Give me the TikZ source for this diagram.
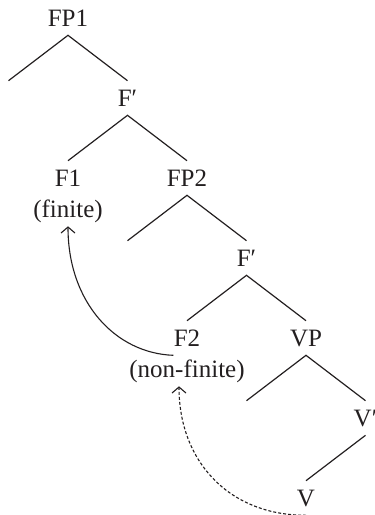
\documentclass[tikz,border=0pt]{standalone}
\usepackage{fontspec}
\setmainfont{Liberation Serif}
\usetikzlibrary{arrows.meta,positioning}
\definecolor{Ink}{HTML}{231F20}
\tikzset{
  cat/.style={inner xsep=0pt,inner ysep=4pt,text height=8.9pt,text depth=0pt,font=\fontsize{12.5pt}{14pt}\selectfont,text=Ink},
  branch/.style={draw=Ink,line width=0.6pt},
  move/.style={-{Straight Barb[length=3pt,width=7pt]},draw=Ink,line width=0.55pt},
  trace/.style={move,dash pattern=on 1.5pt off 1pt}
}

\begin{document}
\begin{tikzpicture}[x=0.5pt,y=-0.5pt,on grid,node distance=40pt and 29.75pt]
  \useasboundingbox (0,0) rectangle (375,515);
  \node[cat] (fp1) at (68,18) {FP1};
  \node[cat,below left=of fp1] (spec1) {};
  \node[cat,below right=of fp1] (fbar1) {F′};
  \node[cat,below left=of fbar1] (f1) {F1};
  \node[cat,below=15.5pt of f1] (f1gloss) {(finite)};
  \node[cat,below right=of fbar1] (fp2) {FP2};
  \node[cat,below left=of fp2] (spec2) {};
  \node[cat,below right=of fp2] (fbar2) {F′};
  \node[cat,below left=of fbar2] (f2) {F2};
  \node[cat,below=15.5pt of f2] (f2gloss) {(non-finite)};
  \node[cat,below right=of fbar2] (vp) {VP};
  \node[cat,below left=of vp] (spec3) {};
  \node[cat,below right=of vp] (vbar) {V′};
  \node[cat,below left=of vbar] (v) {V};
  \draw[branch] (spec1.north) -- (fp1.south) -- (fbar1.north);
  \draw[branch] (f1.north) -- (fbar1.south) -- (fp2.north);
  \draw[branch] (spec2.north) -- (fp2.south) -- (fbar2.north);
  \draw[branch] (f2.north) -- (fbar2.south) -- (vp.north);
  \draw[branch] (spec3.north) -- (vp.south) -- (vbar.north);
  \draw[branch] (vbar.south) -- (v.north);
  % head movement
  \draw[move] (f2.south west) .. controls +(-58,-2) and +(0,76) .. (f1gloss.south);
  \draw[trace] (v.south) .. controls +(-78,0) and +(0,74) .. ([xshift=-4pt]f2gloss.south);
\end{tikzpicture}
\end{document}
